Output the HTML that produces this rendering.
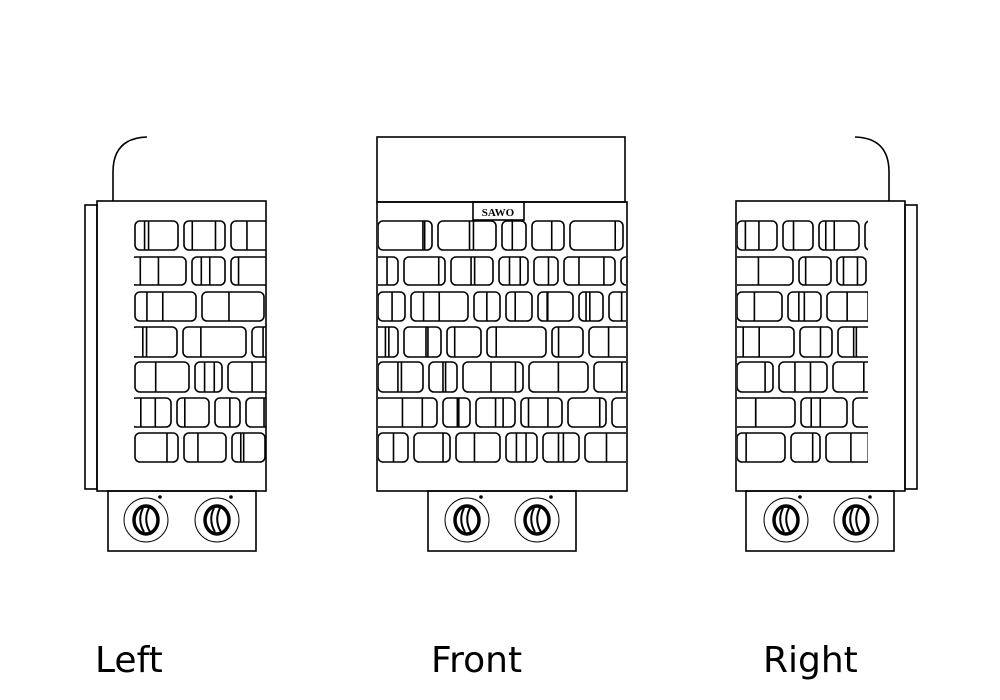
<!DOCTYPE html>
<html><head><meta charset="utf-8"><style>
html,body{margin:0;padding:0;background:#fff;width:1000px;height:700px;overflow:hidden}
svg{display:block}
.t{font-family:"DejaVu Sans","Liberation Sans",sans-serif;font-size:36px;fill:#000}
</style></head><body>
<svg id="s" width="1000" height="700" viewBox="0 0 1000 700" xmlns="http://www.w3.org/2000/svg">
<defs>
<clipPath id="cl"><rect x="134" y="215" width="132" height="255"/></clipPath>
<clipPath id="cf"><rect x="378" y="215" width="248" height="255"/></clipPath>
<clipPath id="cr"><rect x="737" y="215" width="131" height="255"/></clipPath>
</defs>
<g fill="none" stroke="#000" stroke-width="1.6">
<!-- left -->
<rect x="85" y="205" width="12" height="284"/>
<rect x="97" y="201" width="169" height="290"/>
<path d="M113 201 V172 Q113 138 147 137"/>
<rect x="108" y="491" width="148" height="60"/>
<!-- front -->
<rect x="377" y="137" width="248" height="65"/>
<rect x="377" y="202" width="250" height="289"/>
<rect x="473" y="202" width="51" height="18"/>
<rect x="428" y="491" width="148" height="60"/>
<!-- right -->
<rect x="905" y="205" width="12" height="284"/>
<rect x="736" y="201" width="169" height="290"/>
<path d="M889 201 V172 Q889 138 855 137"/>
<rect x="746" y="491" width="148" height="60"/>
<g id="gl" clip-path="url(#cl)"></g>
<g id="gf" clip-path="url(#cf)"></g>
<g id="gr" clip-path="url(#cr)"></g>
<g id="kn"></g>
</g>
<text x="498" y="216" text-anchor="middle" style="font-family:'Liberation Serif',serif;font-size:11px;font-weight:bold" fill="#000">SAWO</text>
<text class="t" x="95" y="672">Left</text>
<text class="t" x="431" y="672">Front</text>
<text class="t" x="763" y="672">Right</text>
</svg>
<script>
var NS="http://www.w3.org/2000/svg";
function el(p,t,a){var e=document.createElementNS(NS,t);for(var k in a)e.setAttribute(k,a[k]);p.appendChild(e);return e;}
var rows=[[221,250],[257,285],[292,321],[327,357],[362,392],[398,427],[433,462]];
var seed=7;function rnd(){seed=(seed*9301+49297)%233280;return seed/233280;}
function grid(id,x0,x1){
 var g=document.getElementById(id);
 rows.forEach(function(r,i){
  var x=x0+(i%2?-4:0);
  while(x<x1){
   var w=24+Math.floor(rnd()*40);
   el(g,"rect",{x:x,y:r[0],width:w,height:r[1]-r[0],rx:5});
   var n=1+Math.floor(rnd()*2);
   for(var j=0;j<n;j++){var lx=x+6+rnd()*(w-12);el(g,"line",{x1:lx,y1:r[0],x2:lx,y2:r[1]});}
   x+=w+6;
  }
 });
}
grid("gl",135,266);grid("gf",378,627);grid("gr",737,868);
var kg=document.getElementById("kn");
[146,217,467,537,786,856].forEach(function(cx){
 var cy=520;
 el(kg,"circle",{cx:cx,cy:cy,r:22,"stroke-width":1});
 el(kg,"ellipse",{cx:cx,cy:cy,rx:12,ry:14,"stroke-width":3.5});
 el(kg,"path",{d:"M"+(cx-3)+" "+(cy-12)+" Q"+(cx-9)+" "+cy+" "+(cx-2)+" "+(cy+12),"stroke-width":2});
 el(kg,"path",{d:"M"+(cx+3)+" "+(cy-12)+" Q"+(cx-3)+" "+cy+" "+(cx+4)+" "+(cy+12),"stroke-width":2});
 el(kg,"circle",{cx:cx+14,cy:497,r:1,fill:"#000"});
});
</script>
</body></html>
